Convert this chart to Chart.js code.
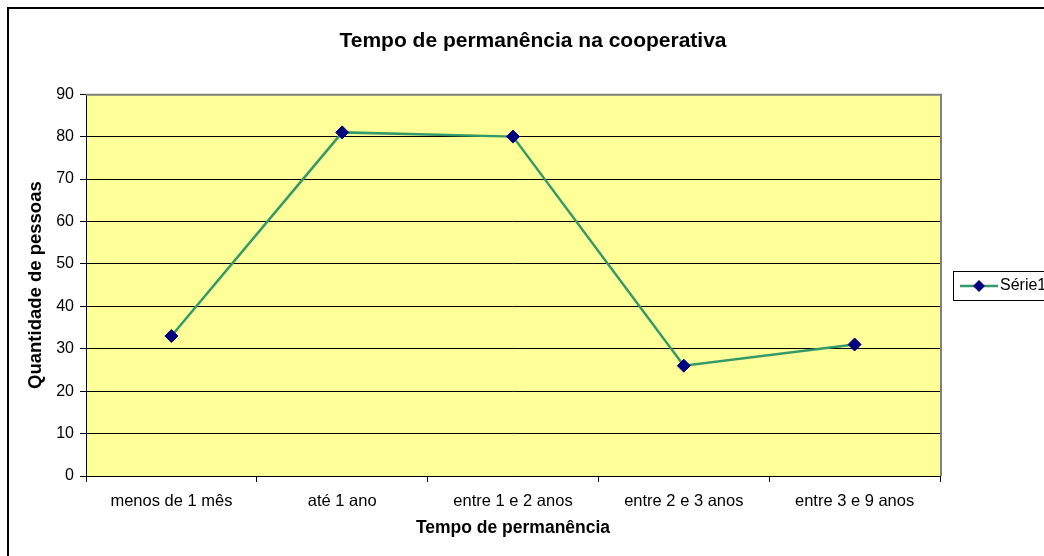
<!DOCTYPE html>
<html>
<head>
<meta charset="utf-8">
<script src="https://cdn.jsdelivr.net/npm/chart.js@4/dist/chart.umd.min.js"></script>
<style>
  html, body { margin: 0; padding: 0; background: #fff; overflow: hidden; }
  #wrap { position: relative; width: 1066px; height: 556px; }
</style>
</head>
<body>
<div id="wrap"><canvas id="chart" width="1066" height="556"></canvas></div>
<script>
// dados do gráfico
const categorias = ['menos de 1 mês', 'até 1 ano', 'entre 1 e 2 anos', 'entre 2 e 3 anos', 'entre 3 e 9 anos'];
const quantidades = [33, 81, 80, 26, 31];
const serieNome = 'Série1';
const tituloGrafico = 'Tempo de permanência na cooperativa';
const tituloX = 'Tempo de permanência';
const tituloY = 'Quantidade de pessoas';
const yMin = 0, yMax = 90, yPasso = 10;

const fonte = "'Liberation Sans', Arial, sans-serif";
const verde = '#339966';
const azul = '#000080';

// moldura, fundo amarelo da área de plotagem e legenda estilo Excel
const excelStyle = {
  id: 'excelStyle',
  beforeDraw(chart) {
    const {ctx, chartArea: a} = chart;
    ctx.save();
    ctx.fillStyle = '#fff';
    ctx.fillRect(0, 0, chart.width, chart.height);
    ctx.strokeStyle = '#000';
    ctx.lineWidth = 2;
    ctx.strokeRect(8, 8, chart.width + 20, chart.height + 20);
    ctx.fillStyle = '#FFFF99';
    ctx.fillRect(a.left, a.top, a.right - a.left, a.bottom - a.top);
    ctx.restore();
  },
  beforeDatasetsDraw(chart) {
    const {ctx, chartArea: a} = chart;
    ctx.save();
    ctx.strokeStyle = '#808080';
    ctx.lineWidth = 2;
    ctx.beginPath();
    ctx.moveTo(a.left, a.top + 0.5);
    ctx.lineTo(a.right + 1, a.top + 0.5);
    ctx.lineTo(a.right + 1, a.bottom);
    ctx.stroke();
    ctx.restore();
  },
  afterDraw(chart) {
    const {ctx} = chart;
    const ds = chart.data.datasets[0];
    const x = 953, y = 271, w = 120, h = 29;
    ctx.save();
    ctx.fillStyle = '#fff';
    ctx.fillRect(x, y, w, h);
    ctx.strokeStyle = '#000';
    ctx.lineWidth = 1;
    ctx.strokeRect(x + 0.5, y + 0.5, w, h);
    const cy = y + h / 2 + 0.5;
    ctx.strokeStyle = ds.borderColor;
    ctx.lineWidth = 2.5;
    ctx.beginPath();
    ctx.moveTo(x + 7, cy);
    ctx.lineTo(x + 45, cy);
    ctx.stroke();
    ctx.fillStyle = ds.pointBackgroundColor;
    ctx.beginPath();
    const cx = x + 26, r = 6;
    ctx.moveTo(cx, cy - r); ctx.lineTo(cx + r, cy); ctx.lineTo(cx, cy + r); ctx.lineTo(cx - r, cy);
    ctx.closePath();
    ctx.fill();
    ctx.fillStyle = '#000';
    ctx.font = '16px ' + fonte;
    ctx.textBaseline = 'middle';
    ctx.fillText(ds.label, x + 47, cy);
    ctx.restore();
  }
};

new Chart(document.getElementById('chart').getContext('2d'), {
  type: 'line',
  data: {
    labels: categorias,
    datasets: [{
      label: serieNome,
      data: quantidades,
      borderColor: verde,
      borderWidth: 2.5,
      backgroundColor: azul,
      pointStyle: 'rectRot',
      pointRadius: 6.5,
      pointBackgroundColor: azul,
      pointBorderColor: azul,
      pointBorderWidth: 1,
      tension: 0
    }]
  },
  options: {
    responsive: false,
    animation: false,
    layout: { padding: 0 },
    plugins: {
      legend: { display: false },
      tooltip: { enabled: false },
      title: {
        display: true, text: tituloGrafico, color: '#000',
        font: { family: fonte, size: 21, weight: 'bold' },
        padding: { top: 29, bottom: 40 }
      }
    },
    scales: {
      x: {
        offset: true,
        grid: { offset: true, drawOnChartArea: false, drawTicks: true, tickLength: 6, color: '#000' },
        border: { color: '#000', width: 1 },
        ticks: { color: '#000', font: { family: fonte, size: 16.5 }, padding: 10, maxRotation: 0 },
        title: { display: true, text: tituloX, color: '#000',
          font: { family: fonte, size: 17.5, weight: 'bold' }, padding: { top: 0, bottom: 17 } },
        afterFit(s) { s.height = 80; }
      },
      y: {
        min: yMin, max: yMax,
        grid: { color: c => (c.tick && c.tick.value === yMax) ? '#808080' : '#000', tickColor: '#000', tickLength: 6 },
        border: { color: '#000', width: 1 },
        ticks: { stepSize: yPasso, color: '#000', font: { family: fonte, size: 16 }, padding: 6 },
        title: { display: true, text: tituloY, color: '#000',
          font: { family: fonte, size: 18.5, weight: 'bold' }, padding: { top: 25, bottom: 0 } },
        afterFit(s) { s.width = 86; }
      },
      espaco: {
        type: 'linear', position: 'right', display: true,
        grid: { display: false, drawTicks: false },
        border: { display: false },
        ticks: { display: false },
        afterFit(s) { s.width = 126; }
      }
    }
  },
  plugins: [excelStyle]
});
</script>
</body>
</html>
